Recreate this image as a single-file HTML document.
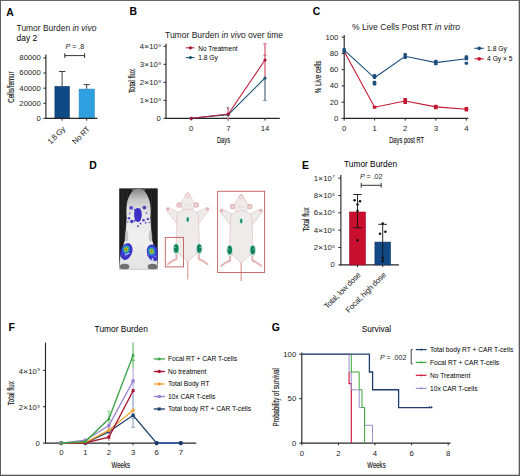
<!DOCTYPE html>
<html><head><meta charset="utf-8"><style>
html,body{margin:0;padding:0;background:#fff;}
svg{display:block;font-family:"Liberation Sans", sans-serif;}
</style></head><body>
<svg width="520" height="476" viewBox="0 0 520 476">
<text x="6.2" y="15.6" font-size="10.4" font-weight="bold" fill="#000">A</text>
<text x="16.6" y="30.5" font-size="8.43" fill="#222">Tumor Burden <tspan font-style="italic">in vivo</tspan></text>
<text x="16.6" y="41.3" font-size="8.43">day 2</text>
<text x="65.6" y="49.3" font-size="7.0" fill="#222"><tspan font-style="italic">P</tspan> = .8</text>
<line x1="64.8" y1="55.6" x2="84.6" y2="55.6" stroke="#333" stroke-width="1" />
<line x1="64.8" y1="53.2" x2="64.8" y2="58.0" stroke="#333" stroke-width="1" />
<line x1="84.6" y1="53.2" x2="84.6" y2="58.0" stroke="#333" stroke-width="1" />
<line x1="43.4" y1="118.4" x2="46" y2="118.4" stroke="#262626" stroke-width="1" />
<text x="0" y="0" font-size="6.9" text-anchor="end" fill="#222" transform="translate(40.8,120.85) scale(1.12,1)">0</text>
<line x1="43.4" y1="103.28" x2="46" y2="103.28" stroke="#262626" stroke-width="1" />
<text x="0" y="0" font-size="6.9" text-anchor="end" fill="#222" transform="translate(40.8,105.73) scale(1.12,1)">20000</text>
<line x1="43.4" y1="88.16000000000001" x2="46" y2="88.16000000000001" stroke="#262626" stroke-width="1" />
<text x="0" y="0" font-size="6.9" text-anchor="end" fill="#222" transform="translate(40.8,90.61) scale(1.12,1)">40000</text>
<line x1="43.4" y1="73.04" x2="46" y2="73.04" stroke="#262626" stroke-width="1" />
<text x="0" y="0" font-size="6.9" text-anchor="end" fill="#222" transform="translate(40.8,75.49) scale(1.12,1)">60000</text>
<line x1="43.4" y1="57.92000000000001" x2="46" y2="57.92000000000001" stroke="#262626" stroke-width="1" />
<text x="0" y="0" font-size="6.9" text-anchor="end" fill="#222" transform="translate(40.8,60.37) scale(1.12,1)">80000</text>
<line x1="45.9" y1="54.6" x2="45.9" y2="118.9" stroke="#262626" stroke-width="1.15" />
<rect x="54.9" y="86.5" width="14.4" height="31.900000000000006" fill="#0f4a85" stroke="#093560" stroke-width="0.6"/>
<rect x="79.1" y="89.1" width="15.2" height="29.30000000000001" fill="#2fa0df" stroke="#2288c8" stroke-width="0.6"/>
<line x1="62.1" y1="86.2" x2="62.1" y2="71.5" stroke="#3a4048" stroke-width="1" />
<line x1="58.9" y1="71.5" x2="65.5" y2="71.5" stroke="#3a4048" stroke-width="1" />
<line x1="86.7" y1="88.8" x2="86.7" y2="84.6" stroke="#3a4048" stroke-width="1" />
<line x1="83.6" y1="84.6" x2="89.8" y2="84.6" stroke="#3a4048" stroke-width="1" />
<line x1="45.4" y1="118.4" x2="97.5" y2="118.4" stroke="#262626" stroke-width="1.15" />
<line x1="62.1" y1="118.4" x2="62.1" y2="120.60000000000001" stroke="#262626" stroke-width="1" />
<line x1="86.7" y1="118.4" x2="86.7" y2="120.60000000000001" stroke="#262626" stroke-width="1" />
<text x="65.6" y="129.8" font-size="7.9" letter-spacing="-0.35" text-anchor="end" fill="#222" transform="rotate(-45 65.6 129.8)">1.8 Gy</text>
<text x="90.3" y="129.8" font-size="7.9" letter-spacing="-0.3" text-anchor="end" fill="#222" transform="rotate(-45 90.3 129.8)">No RT</text>
<text x="0" y="0" font-size="9.0" font-weight="normal" text-anchor="middle" textLength="31.5" lengthAdjust="spacingAndGlyphs" transform="translate(14.14,87.1) rotate(-90)" fill="#222" stroke="#222" stroke-width="0.16">Cells/femur</text>
<text x="129.4" y="15.4" font-size="10.4" font-weight="bold" fill="#000">B</text>
<text x="165.0" y="38.1" font-size="8.53" fill="#222">Tumor Burden <tspan font-style="italic">in vivo</tspan> over time</text>
<line x1="163.5" y1="118.3" x2="166" y2="118.3" stroke="#262626" stroke-width="1" />
<text x="0" y="0" font-size="6.9" text-anchor="end" fill="#222" transform="translate(160.8,120.75) scale(1.12,1)">0</text>
<line x1="163.5" y1="100.3" x2="166" y2="100.3" stroke="#262626" stroke-width="1" />
<text x="0" y="0" font-size="6.9" text-anchor="end" fill="#222" transform="translate(160.7,102.75) scale(1.12,1)">1<tspan font-size="7.93" dy="0.45">×</tspan><tspan dy="-0.45">10</tspan><tspan font-size="4.14" dx="0.35" dy="-2.07">9</tspan></text>
<line x1="163.5" y1="82.3" x2="166" y2="82.3" stroke="#262626" stroke-width="1" />
<text x="0" y="0" font-size="6.9" text-anchor="end" fill="#222" transform="translate(160.7,84.75) scale(1.12,1)">2<tspan font-size="7.93" dy="0.45">×</tspan><tspan dy="-0.45">10</tspan><tspan font-size="4.14" dx="0.35" dy="-2.07">9</tspan></text>
<line x1="163.5" y1="64.3" x2="166" y2="64.3" stroke="#262626" stroke-width="1" />
<text x="0" y="0" font-size="6.9" text-anchor="end" fill="#222" transform="translate(160.7,66.75) scale(1.12,1)">3<tspan font-size="7.93" dy="0.45">×</tspan><tspan dy="-0.45">10</tspan><tspan font-size="4.14" dx="0.35" dy="-2.07">9</tspan></text>
<line x1="163.5" y1="46.3" x2="166" y2="46.3" stroke="#262626" stroke-width="1" />
<text x="0" y="0" font-size="6.9" text-anchor="end" fill="#222" transform="translate(160.7,48.75) scale(1.12,1)">4<tspan font-size="7.93" dy="0.45">×</tspan><tspan dy="-0.45">10</tspan><tspan font-size="4.14" dx="0.35" dy="-2.07">9</tspan></text>
<line x1="166.0" y1="43.8" x2="166.0" y2="118.8" stroke="#262626" stroke-width="1.15" />
<line x1="165.5" y1="118.3" x2="279.8" y2="118.3" stroke="#262626" stroke-width="1.15" />
<line x1="191.2" y1="118.3" x2="191.2" y2="120.5" stroke="#262626" stroke-width="1" />
<text x="0" y="0" font-size="6.9" text-anchor="middle" fill="#222" transform="translate(191.2,130.95) scale(1.12,1)">0</text>
<line x1="228.3" y1="118.3" x2="228.3" y2="120.5" stroke="#262626" stroke-width="1" />
<text x="0" y="0" font-size="6.9" text-anchor="middle" fill="#222" transform="translate(228.3,130.95) scale(1.12,1)">7</text>
<line x1="265.0" y1="118.3" x2="265.0" y2="120.5" stroke="#262626" stroke-width="1" />
<text x="0" y="0" font-size="6.9" text-anchor="middle" fill="#222" transform="translate(265.0,130.95) scale(1.12,1)">14</text>
<text x="223.5" y="143.04" font-size="9.0" font-weight="normal" text-anchor="middle" textLength="13.0" lengthAdjust="spacingAndGlyphs" fill="#222" stroke="#222" stroke-width="0.16">Days</text>
<text x="0" y="0" font-size="9.0" font-weight="normal" text-anchor="middle" textLength="24.0" lengthAdjust="spacingAndGlyphs" transform="translate(135.24,81.0) rotate(-90)" fill="#222" stroke="#222" stroke-width="0.16">Total flux</text>
<line x1="265" y1="43.7" x2="265" y2="78" stroke="#e07c93" stroke-width="1.6" />
<line x1="263.2" y1="43.7" x2="266.8" y2="43.7" stroke="#e07c93" stroke-width="1" />
<line x1="263.4" y1="55.2" x2="266.6" y2="55.2" stroke="#c8506a" stroke-width="1" />
<line x1="265" y1="78" x2="265" y2="100.6" stroke="#7d8fa0" stroke-width="1.6" />
<line x1="263.2" y1="100.6" x2="266.8" y2="100.6" stroke="#7d8fa0" stroke-width="1" />
<line x1="228.1" y1="120.4" x2="228.1" y2="108.4" stroke="#d88a9c" stroke-width="1.4" />
<path d="M226.5,107.2 L229.7,107.2 L228.1,110.2 Z" fill="#a87080"/>
<polyline points="191.20,118.30 228.30,114.60 265.00,78.00" fill="none" stroke="#1e5676" stroke-width="1.1" />
<polyline points="191.20,118.30 228.30,114.00 265.00,60.00" fill="none" stroke="#c3203f" stroke-width="1.1" />
<circle cx="191.2" cy="118.3" r="1.6" fill="#1e5676" />
<circle cx="228.3" cy="114.6" r="1.6" fill="#1e5676" />
<circle cx="265" cy="78.0" r="1.6" fill="#1e5676" />
<circle cx="191.2" cy="118.3" r="1.6" fill="#a3142f" />
<circle cx="228.3" cy="114.0" r="1.6" fill="#a3142f" />
<circle cx="265" cy="60.0" r="1.6" fill="#a3142f" />
<line x1="185.8" y1="47.8" x2="194.4" y2="47.8" stroke="#c3203f" stroke-width="1.1" />
<circle cx="190.4" cy="47.8" r="1.6" fill="#a3142f" />
<text x="198.2" y="50.7" font-size="6.5">No Treatment</text>
<line x1="185.8" y1="57.6" x2="194.4" y2="57.6" stroke="#1e5676" stroke-width="1.1" />
<circle cx="190.4" cy="57.6" r="1.6" fill="#1e5676" />
<text x="198.2" y="60.0" font-size="6.65">1.8 Gy</text>
<text x="312.8" y="15.4" font-size="10.4" font-weight="bold" fill="#000">C</text>
<text x="352" y="30.0" font-size="8.6" fill="#222">% Live Cells Post RT <tspan font-style="italic">in vitro</tspan></text>
<line x1="341.6" y1="118.4" x2="344.2" y2="118.4" stroke="#262626" stroke-width="1" />
<text x="0" y="0" font-size="6.9" text-anchor="end" fill="#222" transform="translate(338.4,120.85) scale(1.12,1)">0</text>
<line x1="341.6" y1="102.15" x2="344.2" y2="102.15" stroke="#262626" stroke-width="1" />
<text x="0" y="0" font-size="6.9" text-anchor="end" fill="#222" transform="translate(338.4,104.60) scale(1.12,1)">20</text>
<line x1="341.6" y1="85.9" x2="344.2" y2="85.9" stroke="#262626" stroke-width="1" />
<text x="0" y="0" font-size="6.9" text-anchor="end" fill="#222" transform="translate(338.4,88.35) scale(1.12,1)">40</text>
<line x1="341.6" y1="69.65" x2="344.2" y2="69.65" stroke="#262626" stroke-width="1" />
<text x="0" y="0" font-size="6.9" text-anchor="end" fill="#222" transform="translate(338.4,72.10) scale(1.12,1)">60</text>
<line x1="341.6" y1="53.400000000000006" x2="344.2" y2="53.400000000000006" stroke="#262626" stroke-width="1" />
<text x="0" y="0" font-size="6.9" text-anchor="end" fill="#222" transform="translate(338.4,55.85) scale(1.12,1)">80</text>
<line x1="341.6" y1="37.150000000000006" x2="344.2" y2="37.150000000000006" stroke="#262626" stroke-width="1" />
<text x="0" y="0" font-size="6.9" text-anchor="end" fill="#222" transform="translate(338.4,39.60) scale(1.12,1)">100</text>
<line x1="344.2" y1="35.0" x2="344.2" y2="118.9" stroke="#262626" stroke-width="1.15" />
<line x1="343.7" y1="118.4" x2="468.3" y2="118.4" stroke="#262626" stroke-width="1.15" />
<line x1="344.2" y1="118.4" x2="344.2" y2="120.60000000000001" stroke="#262626" stroke-width="1" />
<text x="0" y="0" font-size="6.9" text-anchor="middle" fill="#222" transform="translate(344.2,130.95) scale(1.12,1)">0</text>
<line x1="374.6" y1="118.4" x2="374.6" y2="120.60000000000001" stroke="#262626" stroke-width="1" />
<text x="0" y="0" font-size="6.9" text-anchor="middle" fill="#222" transform="translate(374.6,130.95) scale(1.12,1)">1</text>
<line x1="405.2" y1="118.4" x2="405.2" y2="120.60000000000001" stroke="#262626" stroke-width="1" />
<text x="0" y="0" font-size="6.9" text-anchor="middle" fill="#222" transform="translate(405.2,130.95) scale(1.12,1)">2</text>
<line x1="435.8" y1="118.4" x2="435.8" y2="120.60000000000001" stroke="#262626" stroke-width="1" />
<text x="0" y="0" font-size="6.9" text-anchor="middle" fill="#222" transform="translate(435.8,130.95) scale(1.12,1)">3</text>
<line x1="466.4" y1="118.4" x2="466.4" y2="120.60000000000001" stroke="#262626" stroke-width="1" />
<text x="0" y="0" font-size="6.9" text-anchor="middle" fill="#222" transform="translate(466.4,130.95) scale(1.12,1)">4</text>
<text x="406.6" y="143.44" font-size="9.0" font-weight="normal" text-anchor="middle" textLength="34.8" lengthAdjust="spacingAndGlyphs" fill="#222" stroke="#222" stroke-width="0.16">Days post RT</text>
<text x="0" y="0" font-size="9.0" font-weight="normal" text-anchor="middle" textLength="32.4" lengthAdjust="spacingAndGlyphs" transform="translate(320.84,77.0) rotate(-90)" fill="#222" stroke="#222" stroke-width="0.16">% Live cells</text>
<polyline points="344.20,51.40 374.60,107.20 405.20,101.00 435.80,106.90 466.40,109.20" fill="none" stroke="#c5162f" stroke-width="1.1" />
<polyline points="344.20,50.20 374.50,77.80 405.20,56.30 435.80,62.60 466.40,58.80" fill="none" stroke="#1d4f7c" stroke-width="1.1" />
<rect x="342.4" y="47.95" width="3.6" height="3.1" fill="#1d4f7c" rx="1.2"/>
<rect x="342.4" y="49.95" width="3.6" height="3.1" fill="#1d4f7c" rx="1.2"/>
<rect x="372.7" y="74.05" width="3.6" height="3.1" fill="#1d4f7c" rx="1.2"/>
<rect x="372.7" y="75.85000000000001" width="3.6" height="3.1" fill="#1d4f7c" rx="1.2"/>
<rect x="372.7" y="80.75" width="3.6" height="3.1" fill="#1d4f7c" rx="1.2"/>
<rect x="372.7" y="82.35000000000001" width="3.6" height="3.1" fill="#1d4f7c" rx="1.2"/>
<rect x="403.4" y="53.050000000000004" width="3.6" height="3.1" fill="#1d4f7c" rx="1.2"/>
<rect x="403.4" y="55.85" width="3.6" height="3.1" fill="#1d4f7c" rx="1.2"/>
<rect x="434.0" y="59.650000000000006" width="3.6" height="3.1" fill="#1d4f7c" rx="1.2"/>
<rect x="434.0" y="62.25" width="3.6" height="3.1" fill="#1d4f7c" rx="1.2"/>
<rect x="464.59999999999997" y="55.35" width="3.6" height="3.1" fill="#1d4f7c" rx="1.2"/>
<rect x="464.59999999999997" y="57.25" width="3.6" height="3.1" fill="#1d4f7c" rx="1.2"/>
<rect x="464.59999999999997" y="61.650000000000006" width="3.6" height="3.1" fill="#1d4f7c" rx="1.2"/>
<rect x="372.8" y="105.65" width="3.6" height="3.1" fill="#c5162f" rx="0.5"/>
<rect x="403.4" y="98.05" width="3.6" height="3.1" fill="#c5162f" rx="0.5"/>
<rect x="403.4" y="100.85000000000001" width="3.6" height="3.1" fill="#c5162f" rx="0.5"/>
<rect x="434.0" y="104.65" width="3.6" height="3.1" fill="#c5162f" rx="0.5"/>
<rect x="434.0" y="106.05" width="3.6" height="3.1" fill="#c5162f" rx="0.5"/>
<rect x="464.59999999999997" y="106.95" width="3.6" height="3.1" fill="#c5162f" rx="0.5"/>
<rect x="464.59999999999997" y="108.45" width="3.6" height="3.1" fill="#c5162f" rx="0.5"/>
<line x1="474.4" y1="48.3" x2="483.7" y2="48.3" stroke="#1d4f7c" stroke-width="1.1" />
<circle cx="479.2" cy="48.3" r="1.9" fill="#1d4f7c" />
<text x="487.1" y="50.8" font-size="6.7">1.8 Gy</text>
<line x1="474.4" y1="58.8" x2="483.7" y2="58.8" stroke="#c5162f" stroke-width="1.1" />
<circle cx="479.2" cy="58.8" r="1.9" fill="#c5162f" />
<text x="487.1" y="61.3" font-size="6.7">4 Gy × 5</text>
<text x="302.0" y="168.8" font-size="10.4" font-weight="bold" fill="#000">E</text>
<text x="344.0" y="167.2" font-size="8.35">Tumor Burden</text>
<line x1="338.3" y1="264.9" x2="340.9" y2="264.9" stroke="#262626" stroke-width="1" />
<text x="0" y="0" font-size="6.9" text-anchor="end" fill="#222" transform="translate(334.7,267.35) scale(1.12,1)">0</text>
<line x1="338.3" y1="247.53999999999996" x2="340.9" y2="247.53999999999996" stroke="#262626" stroke-width="1" />
<text x="0" y="0" font-size="6.9" text-anchor="end" fill="#222" transform="translate(334.7,249.99) scale(1.12,1)">2<tspan font-size="7.93" dy="0.45">×</tspan><tspan dy="-0.45">10</tspan><tspan font-size="4.14" dx="0.35" dy="-2.07">6</tspan></text>
<line x1="338.3" y1="230.17999999999998" x2="340.9" y2="230.17999999999998" stroke="#262626" stroke-width="1" />
<text x="0" y="0" font-size="6.9" text-anchor="end" fill="#222" transform="translate(334.7,232.63) scale(1.12,1)">4<tspan font-size="7.93" dy="0.45">×</tspan><tspan dy="-0.45">10</tspan><tspan font-size="4.14" dx="0.35" dy="-2.07">6</tspan></text>
<line x1="338.3" y1="212.82" x2="340.9" y2="212.82" stroke="#262626" stroke-width="1" />
<text x="0" y="0" font-size="6.9" text-anchor="end" fill="#222" transform="translate(334.7,215.27) scale(1.12,1)">6<tspan font-size="7.93" dy="0.45">×</tspan><tspan dy="-0.45">10</tspan><tspan font-size="4.14" dx="0.35" dy="-2.07">6</tspan></text>
<line x1="338.3" y1="195.45999999999998" x2="340.9" y2="195.45999999999998" stroke="#262626" stroke-width="1" />
<text x="0" y="0" font-size="6.9" text-anchor="end" fill="#222" transform="translate(334.7,197.91) scale(1.12,1)">8<tspan font-size="7.93" dy="0.45">×</tspan><tspan dy="-0.45">10</tspan><tspan font-size="4.14" dx="0.35" dy="-2.07">6</tspan></text>
<line x1="338.3" y1="178.09999999999997" x2="340.9" y2="178.09999999999997" stroke="#262626" stroke-width="1" />
<text x="0" y="0" font-size="6.9" text-anchor="end" fill="#222" transform="translate(334.7,180.55) scale(1.12,1)">1<tspan font-size="7.93" dy="0.45">×</tspan><tspan dy="-0.45">10</tspan><tspan font-size="4.14" dx="0.35" dy="-2.07">7</tspan></text>
<line x1="340.9" y1="175.0" x2="340.9" y2="265.4" stroke="#262626" stroke-width="1.15" />
<line x1="340.4" y1="264.9" x2="398.9" y2="264.9" stroke="#262626" stroke-width="1.15" />
<rect x="349.5" y="212.0" width="16.0" height="52.89999999999998" fill="#c8102e" stroke="#a00c26" stroke-width="0.6"/>
<rect x="374.9" y="242.1" width="15.6" height="22.799999999999983" fill="#114a87" stroke="#0a3262" stroke-width="0.6"/>
<line x1="357.5" y1="194.5" x2="357.5" y2="227.7" stroke="#111" stroke-width="0.9" />
<line x1="353.3" y1="194.5" x2="361.6" y2="194.5" stroke="#111" stroke-width="0.9" />
<line x1="353.3" y1="227.7" x2="361.6" y2="227.7" stroke="#111" stroke-width="0.9" />
<line x1="382.7" y1="224.3" x2="382.7" y2="261.5" stroke="#111" stroke-width="0.9" />
<line x1="378.3" y1="224.3" x2="387.0" y2="224.3" stroke="#111" stroke-width="0.9" />
<circle cx="354.6" cy="200.3" r="1.25" fill="#111" />
<circle cx="360.0" cy="201.2" r="1.25" fill="#111" />
<circle cx="357.5" cy="204.6" r="1.25" fill="#111" />
<circle cx="357.5" cy="210.8" r="1.25" fill="#111" />
<circle cx="357.5" cy="240.3" r="1.25" fill="#111" />
<circle cx="382.7" cy="223.6" r="1.25" fill="#111" />
<circle cx="380.0" cy="233.8" r="1.25" fill="#111" />
<circle cx="385.4" cy="231.8" r="1.25" fill="#111" />
<circle cx="382.7" cy="257.7" r="1.25" fill="#111" />
<circle cx="382.7" cy="261.2" r="1.25" fill="#111" />
<line x1="357.5" y1="264.9" x2="357.5" y2="267.09999999999997" stroke="#262626" stroke-width="1" />
<line x1="382.7" y1="264.9" x2="382.7" y2="267.09999999999997" stroke="#262626" stroke-width="1" />
<text x="360" y="178.6" font-size="7.0" fill="#222"><tspan font-style="italic">P</tspan> = .02</text>
<line x1="361.2" y1="185.3" x2="381.2" y2="185.3" stroke="#333" stroke-width="1" />
<line x1="361.2" y1="182.9" x2="361.2" y2="187.70000000000002" stroke="#333" stroke-width="1" />
<line x1="381.2" y1="182.9" x2="381.2" y2="187.70000000000002" stroke="#333" stroke-width="1" />
<text x="361.0" y="275.6" font-size="7.9" letter-spacing="-0.3" text-anchor="end" fill="#222" transform="rotate(-45 361.0 275.6)">Total, low dose</text>
<text x="386.3" y="275.6" font-size="7.9" letter-spacing="-0.3" text-anchor="end" fill="#222" transform="rotate(-45 386.3 275.6)">Focal, high dose</text>
<text x="0" y="0" font-size="9.0" font-weight="normal" text-anchor="middle" textLength="24.1" lengthAdjust="spacingAndGlyphs" transform="translate(309.04,219.4) rotate(-90)" fill="#222" stroke="#222" stroke-width="0.16">Total flux</text>
<text x="8.6" y="331.2" font-size="10.4" font-weight="bold" fill="#000">F</text>
<text x="94.6" y="331.7" font-size="8.4">Tumor Burden</text>
<line x1="42.9" y1="443.1" x2="45.5" y2="443.1" stroke="#262626" stroke-width="1" />
<text x="0" y="0" font-size="6.9" text-anchor="end" fill="#222" transform="translate(39.8,446.35) scale(1.12,1)">0</text>
<line x1="42.9" y1="406.70000000000005" x2="45.5" y2="406.70000000000005" stroke="#262626" stroke-width="1" />
<text x="0" y="0" font-size="6.9" text-anchor="end" fill="#222" transform="translate(39.8,409.95) scale(1.12,1)">2<tspan font-size="7.93" dy="0.45">×</tspan><tspan dy="-0.45">10</tspan><tspan font-size="4.14" dx="0.35" dy="-2.07">9</tspan></text>
<line x1="42.9" y1="370.3" x2="45.5" y2="370.3" stroke="#262626" stroke-width="1" />
<text x="0" y="0" font-size="6.9" text-anchor="end" fill="#222" transform="translate(39.8,373.55) scale(1.12,1)">4<tspan font-size="7.93" dy="0.45">×</tspan><tspan dy="-0.45">10</tspan><tspan font-size="4.14" dx="0.35" dy="-2.07">9</tspan></text>
<line x1="45.5" y1="342.7" x2="45.5" y2="443.6" stroke="#262626" stroke-width="1.15" />
<line x1="45.0" y1="443.1" x2="196.2" y2="443.1" stroke="#262626" stroke-width="1.15" />
<line x1="61.3" y1="443.1" x2="61.3" y2="445.3" stroke="#262626" stroke-width="1" />
<text x="0" y="0" font-size="6.9" text-anchor="middle" fill="#222" transform="translate(61.3,455.15) scale(1.12,1)">0</text>
<line x1="85.4" y1="443.1" x2="85.4" y2="445.3" stroke="#262626" stroke-width="1" />
<text x="0" y="0" font-size="6.9" text-anchor="middle" fill="#222" transform="translate(85.4,455.15) scale(1.12,1)">1</text>
<line x1="108.9" y1="443.1" x2="108.9" y2="445.3" stroke="#262626" stroke-width="1" />
<text x="0" y="0" font-size="6.9" text-anchor="middle" fill="#222" transform="translate(108.9,455.15) scale(1.12,1)">2</text>
<line x1="133.1" y1="443.1" x2="133.1" y2="445.3" stroke="#262626" stroke-width="1" />
<text x="0" y="0" font-size="6.9" text-anchor="middle" fill="#222" transform="translate(133.1,455.15) scale(1.12,1)">3</text>
<line x1="156.6" y1="443.1" x2="156.6" y2="445.3" stroke="#262626" stroke-width="1" />
<text x="0" y="0" font-size="6.9" text-anchor="middle" fill="#222" transform="translate(156.6,455.15) scale(1.12,1)">6</text>
<line x1="180.8" y1="443.1" x2="180.8" y2="445.3" stroke="#262626" stroke-width="1" />
<text x="0" y="0" font-size="6.9" text-anchor="middle" fill="#222" transform="translate(180.8,455.15) scale(1.12,1)">7</text>
<text x="120.8" y="467.84" font-size="9.0" font-weight="normal" text-anchor="middle" textLength="18.5" lengthAdjust="spacingAndGlyphs" fill="#222" stroke="#222" stroke-width="0.16">Weeks</text>
<text x="0" y="0" font-size="9.0" font-weight="normal" text-anchor="middle" textLength="24.0" lengthAdjust="spacingAndGlyphs" transform="translate(13.84,393.2) rotate(-90)" fill="#222" stroke="#222" stroke-width="0.16">Total flux</text>
<line x1="133.1" y1="342.6" x2="133.1" y2="368" stroke="#9fd39f" stroke-width="1.8" />
<line x1="131.3" y1="360.3" x2="134.9" y2="360.3" stroke="#3da548" stroke-width="0.8" />
<line x1="108.9" y1="411" x2="108.9" y2="426" stroke="#a9d8a9" stroke-width="1.6" />
<line x1="107.3" y1="411" x2="110.5" y2="411" stroke="#8ec98e" stroke-width="0.8" />
<line x1="133.1" y1="368" x2="133.1" y2="405" stroke="#c9bfe6" stroke-width="1.6" />
<line x1="133.1" y1="395" x2="133.1" y2="427.3" stroke="#b0c0d8" stroke-width="1.6" />
<line x1="131.3" y1="427.3" x2="134.9" y2="427.3" stroke="#6f86a6" stroke-width="0.8" />
<line x1="131.3" y1="418.3" x2="134.9" y2="418.3" stroke="#8a7db8" stroke-width="0.8" />
<line x1="108.9" y1="426" x2="108.9" y2="441" stroke="#d6a0ae" stroke-width="1.6" />
<polyline points="61.30,443.10 85.40,443.10 108.90,431.70 133.10,415.30 156.60,443.10 180.80,443.10" fill="none" stroke="#1d3c6c" stroke-width="1.35" />
<rect x="59.68" y="441.49" width="3.23" height="3.23" fill="#1d3c6c"/>
<rect x="83.79" y="441.49" width="3.23" height="3.23" fill="#1d3c6c"/>
<rect x="107.29" y="430.08" width="3.23" height="3.23" fill="#1d3c6c"/>
<rect x="131.48" y="413.69" width="3.23" height="3.23" fill="#1d3c6c"/>
<rect x="154.98" y="441.49" width="3.23" height="3.23" fill="#1d3c6c"/>
<rect x="179.19" y="441.49" width="3.23" height="3.23" fill="#1d3c6c"/>
<polyline points="61.30,443.10 85.40,442.50 108.90,430.20 133.10,410.30" fill="none" stroke="#f0a435" stroke-width="1.35" />
<path d="M61.3,440.92 L63.48,443.1 L61.3,445.29 L59.11,443.1 Z" fill="#f0a435"/>
<path d="M85.4,440.31 L87.59,442.5 L85.4,444.69 L83.22,442.5 Z" fill="#f0a435"/>
<path d="M108.9,428.01 L111.09,430.2 L108.9,432.38 L106.72,430.2 Z" fill="#f0a435"/>
<path d="M133.1,408.12 L135.28,410.3 L133.1,412.49 L130.91,410.3 Z" fill="#f0a435"/>
<polyline points="61.30,443.10 85.40,442.80 108.90,437.20 133.10,390.70" fill="none" stroke="#a8112f" stroke-width="1.35" />
<path d="M61.3,445.19 L63.20,441.68 L59.40,441.68 Z" fill="#a8112f"/><path d="M61.3,441.01 L63.20,444.53 L59.40,444.53 Z" fill="#a8112f"/>
<path d="M85.4,444.89 L87.30,441.38 L83.50,441.38 Z" fill="#a8112f"/><path d="M85.4,440.71 L87.30,444.23 L83.50,444.23 Z" fill="#a8112f"/>
<path d="M108.9,439.29 L110.80,435.77 L107.00,435.77 Z" fill="#a8112f"/><path d="M108.9,435.11 L110.80,438.62 L107.00,438.62 Z" fill="#a8112f"/>
<path d="M133.1,392.79 L135.00,389.27 L131.20,389.27 Z" fill="#a8112f"/><path d="M133.1,388.61 L135.00,392.12 L131.20,392.12 Z" fill="#a8112f"/>
<polyline points="61.30,443.10 85.40,440.20 108.90,425.60 133.10,381.00" fill="none" stroke="#9b82cf" stroke-width="1.35" />
<rect x="59.68" y="441.49" width="3.23" height="3.23" fill="#9b82cf"/>
<rect x="83.79" y="438.58" width="3.23" height="3.23" fill="#9b82cf"/>
<rect x="107.29" y="423.99" width="3.23" height="3.23" fill="#9b82cf"/>
<rect x="131.48" y="379.38" width="3.23" height="3.23" fill="#9b82cf"/>
<polyline points="61.30,443.10 85.40,441.50 108.90,418.80 133.10,355.20" fill="none" stroke="#3da548" stroke-width="1.35" />
<path d="M61.3,441.01 L63.20,444.53 L59.40,444.53 Z" fill="#3da548"/>
<path d="M85.4,439.41 L87.30,442.93 L83.50,442.93 Z" fill="#3da548"/>
<path d="M108.9,416.71 L110.80,420.23 L107.00,420.23 Z" fill="#3da548"/>
<path d="M133.1,353.11 L135.00,356.62 L131.20,356.62 Z" fill="#3da548"/>
<line x1="156.6" y1="443.1" x2="180.8" y2="443.1" stroke="#2a64a8" stroke-width="1.4" />
<circle cx="156.6" cy="443.1" r="2.1" fill="#1d3c6c" />
<circle cx="180.8" cy="443.1" r="2.1" fill="#1d3c6c" />
<line x1="153.8" y1="358.9" x2="164.9" y2="358.9" stroke="#3da548" stroke-width="1.35" />
<path d="M159.2,356.92 L161.00,360.25 L157.40,360.25 Z" fill="#3da548"/>
<text x="167.9" y="361.29999999999995" font-size="6.65">Focal RT + CAR T-cells</text>
<line x1="153.8" y1="371.5" x2="164.9" y2="371.5" stroke="#a8112f" stroke-width="1.35" />
<path d="M159.2,373.48 L161.00,370.15 L157.40,370.15 Z" fill="#a8112f"/><path d="M159.2,369.52 L161.00,372.85 L157.40,372.85 Z" fill="#a8112f"/>
<text x="167.9" y="373.9" font-size="6.65">No treatment</text>
<line x1="153.8" y1="384.0" x2="164.9" y2="384.0" stroke="#f0a435" stroke-width="1.35" />
<path d="M159.2,381.93 L161.27,384.0 L159.2,386.07 L157.13,384.0 Z" fill="#f0a435"/>
<text x="167.9" y="386.4" font-size="6.65">Total Body RT</text>
<line x1="153.8" y1="396.5" x2="164.9" y2="396.5" stroke="#9b82cf" stroke-width="1.35" />
<rect x="157.67" y="394.97" width="3.06" height="3.06" fill="#9b82cf"/>
<text x="167.9" y="398.9" font-size="6.65">10x CAR T-cells</text>
<line x1="153.8" y1="409.0" x2="164.9" y2="409.0" stroke="#1d3c6c" stroke-width="1.35" />
<rect x="157.67" y="407.47" width="3.06" height="3.06" fill="#1d3c6c"/>
<text x="167.9" y="411.4" font-size="6.65">Total body RT + CAR T-cells</text>
<text x="271.8" y="331.2" font-size="10.4" font-weight="bold" fill="#000">G</text>
<text x="361.7" y="331.8" font-size="8.3">Survival</text>
<line x1="299.2" y1="443.1" x2="301.8" y2="443.1" stroke="#262626" stroke-width="1" />
<text x="0" y="0" font-size="6.9" text-anchor="end" fill="#222" transform="translate(296.2,445.55) scale(1.12,1)">0</text>
<line x1="299.2" y1="398.65" x2="301.8" y2="398.65" stroke="#262626" stroke-width="1" />
<text x="0" y="0" font-size="6.9" text-anchor="end" fill="#222" transform="translate(296.2,401.10) scale(1.12,1)">50</text>
<line x1="299.2" y1="354.2" x2="301.8" y2="354.2" stroke="#262626" stroke-width="1" />
<text x="0" y="0" font-size="6.9" text-anchor="end" fill="#222" transform="translate(296.2,356.65) scale(1.12,1)">100</text>
<line x1="301.8" y1="352.5" x2="301.8" y2="443.6" stroke="#262626" stroke-width="1.15" />
<line x1="301.3" y1="443.1" x2="450.5" y2="443.1" stroke="#262626" stroke-width="1.3" />
<line x1="301.8" y1="443.1" x2="301.8" y2="445.3" stroke="#262626" stroke-width="1" />
<text x="0" y="0" font-size="6.9" text-anchor="middle" fill="#222" transform="translate(301.8,455.75) scale(1.12,1)">0</text>
<line x1="338.40000000000003" y1="443.1" x2="338.40000000000003" y2="445.3" stroke="#262626" stroke-width="1" />
<text x="0" y="0" font-size="6.9" text-anchor="middle" fill="#222" transform="translate(338.40000000000003,455.75) scale(1.12,1)">2</text>
<line x1="375.0" y1="443.1" x2="375.0" y2="445.3" stroke="#262626" stroke-width="1" />
<text x="0" y="0" font-size="6.9" text-anchor="middle" fill="#222" transform="translate(375.0,455.75) scale(1.12,1)">4</text>
<line x1="411.6" y1="443.1" x2="411.6" y2="445.3" stroke="#262626" stroke-width="1" />
<text x="0" y="0" font-size="6.9" text-anchor="middle" fill="#222" transform="translate(411.6,455.75) scale(1.12,1)">6</text>
<line x1="448.20000000000005" y1="443.1" x2="448.20000000000005" y2="445.3" stroke="#262626" stroke-width="1" />
<text x="0" y="0" font-size="6.9" text-anchor="middle" fill="#222" transform="translate(448.20000000000005,455.75) scale(1.12,1)">8</text>
<text x="376.5" y="467.64" font-size="9.0" font-weight="normal" text-anchor="middle" textLength="18.3" lengthAdjust="spacingAndGlyphs" fill="#222" stroke="#222" stroke-width="0.16">Weeks</text>
<text x="0" y="0" font-size="9.0" font-weight="normal" text-anchor="middle" textLength="58.3" lengthAdjust="spacingAndGlyphs" transform="translate(278.54,397.3) rotate(-90)" fill="#222" stroke="#222" stroke-width="0.16">Probability of survival</text>
<polyline points="349.10,371.98 349.10,383.63 351.30,383.63 351.30,443.10" fill="none" stroke="#d0163e" stroke-width="1.15" />
<polyline points="301.80,354.20 349.10,354.20 349.10,371.98 351.30,371.98 351.30,389.76 359.20,389.76 359.20,407.54 364.60,407.54 364.60,425.32 372.50,425.32 372.50,443.10" fill="none" stroke="#9a8fd0" stroke-width="1.0" />
<polyline points="351.30,354.20 351.30,371.98 359.20,371.98 359.20,389.76 362.00,389.76 362.00,407.54 364.60,407.54 364.60,443.10" fill="none" stroke="#3aa836" stroke-width="1.0" />
<polyline points="301.80,354.20 369.40,354.20 369.40,371.98 372.60,371.98 372.60,389.76 398.60,389.76 398.60,407.54 432.40,407.54" fill="none" stroke="#1f3e6d" stroke-width="1.3" />
<line x1="429.3" y1="406.04" x2="429.3" y2="407.54" stroke="#1f3e6d" stroke-width="0.8" />
<line x1="431.6" y1="406.04" x2="431.6" y2="407.54" stroke="#1f3e6d" stroke-width="0.8" />
<text x="380" y="359.8" font-size="7.0" fill="#222"><tspan font-style="italic">P</tspan> = .002</text>
<polyline points="412.80,349.60 411.20,349.60 411.20,363.90 412.80,363.90" fill="none" stroke="#333" stroke-width="0.9" />
<line x1="415.8" y1="349.6" x2="426.6" y2="349.6" stroke="#1f3e6d" stroke-width="1.2" />
<line x1="421.2" y1="348.40000000000003" x2="421.2" y2="350.8" stroke="#1f3e6d" stroke-width="0.8" />
<text x="430.0" y="352.0" font-size="6.65">Total body RT + CAR T-cells</text>
<line x1="415.8" y1="362.4" x2="426.6" y2="362.4" stroke="#3aa836" stroke-width="1.2" />
<line x1="421.2" y1="361.2" x2="421.2" y2="363.59999999999997" stroke="#3aa836" stroke-width="0.8" />
<text x="430.0" y="364.79999999999995" font-size="6.65">Focal RT + CAR T-cells</text>
<line x1="415.8" y1="375.3" x2="426.6" y2="375.3" stroke="#d0163e" stroke-width="1.2" />
<line x1="421.2" y1="374.1" x2="421.2" y2="376.5" stroke="#d0163e" stroke-width="0.8" />
<text x="430.0" y="377.7" font-size="6.65">No Treatment</text>
<line x1="415.8" y1="388.4" x2="426.6" y2="388.4" stroke="#9a8fd0" stroke-width="1.2" />
<line x1="421.2" y1="387.2" x2="421.2" y2="389.59999999999997" stroke="#9a8fd0" stroke-width="0.8" />
<text x="430.0" y="390.79999999999995" font-size="6.65">10x CAR T-cells</text>
<text x="89.2" y="168.8" font-size="10.4" font-weight="bold" fill="#000">D</text>
<defs><filter id="pb" x="-10%" y="-10%" width="120%" height="120%"><feGaussianBlur stdDeviation="0.5"/></filter><linearGradient id="mg" x1="0" y1="0" x2="0" y2="1"><stop offset="0" stop-color="#8a8a8a"/><stop offset="0.12" stop-color="#c4c4c4"/><stop offset="0.3" stop-color="#e6e6e6"/><stop offset="0.6" stop-color="#f0f0f0"/><stop offset="1" stop-color="#e2e2e2"/></linearGradient><clipPath id="pc"><rect x="119.2" y="188.4" width="38.5" height="80.8"/></clipPath></defs>
<rect x="119.2" y="188.4" width="38.5" height="80.8" fill="#1d1d1d"/>
<g clip-path="url(#pc)"><g filter="url(#pb)">
<rect x="122.5" y="188" width="1.2" height="40" fill="#292929"/>
<rect x="126.5" y="188" width="0.8" height="40" fill="#2b2b2b"/>
<rect x="151" y="188" width="1.0" height="40" fill="#2a2a2a"/>
<rect x="154.5" y="188" width="1.2" height="40" fill="#262626"/>
<ellipse cx="138.5" cy="189" rx="7" ry="4" fill="#5c5c5c"/>
<path d="M138.5,189.6 C142,189.6 144.5,191 145.8,193.5 C147.8,196.5 149.2,200 149.8,204 C150.4,208 150.3,213 150.0,218 C150.5,226 151.2,234 151.8,240 C153.5,246 155.5,252 156.5,258 L157.9,269.4 L119.0,269.4 L120.5,258 C121.5,252 123.5,246 125.2,240 C125.8,234 126.5,226 127.0,218 C126.7,213 126.6,208 127.2,204 C127.8,200 129.2,196.5 131.2,193.5 C132.5,191 135,189.6 138.5,189.6 Z" fill="url(#mg)" stroke="#a0a0a0" stroke-width="0.9"/>
<path d="M138.5,189.6 C142,189.6 144.5,191 145.8,193.5 C147.8,196.5 149.2,200 149.8,204 C150.4,208 150.3,213 150.0,218 C150.5,226 151.2,234 151.8,240 C153.5,246 155.5,252 156.5,258 L157.9,269.4 L119.0,269.4 L120.5,258 C121.5,252 123.5,246 125.2,240 C125.8,234 126.5,226 127.0,218 C126.7,213 126.6,208 127.2,204 C127.8,200 129.2,196.5 131.2,193.5 C132.5,191 135,189.6 138.5,189.6 Z" fill="url(#mg)"/>
<ellipse cx="126.5" cy="236" rx="1.8" ry="6" fill="#a8a8a8" opacity="0.6"/>
<ellipse cx="150.5" cy="236" rx="1.8" ry="6" fill="#a8a8a8" opacity="0.6"/>
<ellipse cx="124.5" cy="266.8" rx="4.8" ry="3.0" fill="#707070"/>
<ellipse cx="152.5" cy="266.8" rx="4.8" ry="3.0" fill="#707070"/>
<ellipse cx="138.5" cy="263" rx="4.5" ry="5" fill="#e6e6e6"/>
<path d="M138.0,208.0 C140.8,208.0 142.0,211.5 141.8,215 C141.6,219 140.3,222 138.0,222 C135.6,222 134.3,219 134.2,215 C134.0,211.5 135.3,208.0 138.0,208.0 Z" fill="#3a2ec6"/>
<circle cx="131.2" cy="207.8" r="1.9" fill="#5646c4"/>
<circle cx="144.4" cy="207.6" r="1.9" fill="#5242c0"/>
<circle cx="135.3" cy="210" r="1.3" fill="#4a3ccc"/>
<circle cx="129.0" cy="218.2" r="1.3" fill="#5a4ad0"/>
<circle cx="131.8" cy="221.5" r="1.7" fill="#4a3ac0"/>
<circle cx="147.8" cy="219.0" r="1.3" fill="#5848c8"/>
<circle cx="143.5" cy="220.2" r="1.3" fill="#4a3ac8"/>
<circle cx="138.0" cy="226.2" r="1.1" fill="#6a6ab0"/>
<circle cx="134.6" cy="220.8" r="1.0" fill="#4f3fd0"/>
<circle cx="145.6" cy="222.8" r="1.0" fill="#6a5ad0"/>
<circle cx="129.8" cy="213.5" r="0.9" fill="#8070c8"/>
<circle cx="146.5" cy="213.0" r="0.9" fill="#7a6ac8"/>
<circle cx="127.8" cy="221.8" r="0.8" fill="#6858c8"/>
<circle cx="149.2" cy="222.5" r="0.8" fill="#6a5ac8"/>
<circle cx="140.5" cy="223.5" r="0.9" fill="#5040c8"/>
<g transform="translate(126.2,249.4) rotate(18)">
<ellipse cx="0.8" cy="2.0" rx="5.8" ry="8.6" fill="#3733c8"/>
<circle cx="-0.4" cy="3.2" r="0.9" fill="#4a44d8"/>
<circle cx="3.6" cy="2.8" r="0.8" fill="#dcdcf0"/>
<circle cx="-1.3" cy="2.7" r="0.8" fill="#4a44d8"/>
<circle cx="-2.3" cy="5.4" r="1.0" fill="#4a44d8"/>
<circle cx="4.6" cy="7.0" r="0.8" fill="#4a44d8"/>
<circle cx="1.6" cy="5.2" r="1.1" fill="#4a44d8"/>
<circle cx="1.5" cy="3.1" r="0.8" fill="#dcdcf0"/>
<circle cx="-2.1" cy="4.5" r="1.0" fill="#4a44d8"/>
<circle cx="-2.2" cy="6.6" r="0.6" fill="#4a44d8"/>
<circle cx="1.4" cy="2.5" r="0.5" fill="#4a44d8"/>
<circle cx="1.0" cy="6.3" r="1.0" fill="#6a66e0"/>
<circle cx="1.7" cy="5.6" r="0.7" fill="#4a44d8"/>
<circle cx="2.6" cy="4.0" r="0.8" fill="#dcdcf0"/>
<circle cx="1.0" cy="4.7" r="0.8" fill="#dcdcf0"/>
<ellipse cx="0" cy="0" rx="3.7" ry="4.3" fill="#2a80d0"/>
<ellipse cx="0" cy="0" rx="2.6" ry="3.0" fill="#3fb07a"/>
<ellipse cx="0" cy="0" rx="1.7" ry="1.9" fill="#c0c828"/>
<ellipse cx="0" cy="0" rx="0.8" ry="0.9" fill="#8a6a10"/>
</g>
<g transform="translate(151.6,251.2) rotate(-18)">
<ellipse cx="0.8" cy="2.0" rx="5.8" ry="8.6" fill="#3733c8"/>
<circle cx="-4.8" cy="2.9" r="0.8" fill="#6a66e0"/>
<circle cx="1.8" cy="5.9" r="0.5" fill="#dcdcf0"/>
<circle cx="2.4" cy="6.5" r="1.0" fill="#6a66e0"/>
<circle cx="0.3" cy="4.8" r="0.8" fill="#6a66e0"/>
<circle cx="2.4" cy="2.7" r="0.7" fill="#dcdcf0"/>
<circle cx="-2.3" cy="2.5" r="0.9" fill="#dcdcf0"/>
<circle cx="-1.6" cy="7.4" r="0.8" fill="#dcdcf0"/>
<circle cx="-0.1" cy="7.3" r="0.5" fill="#6a66e0"/>
<circle cx="0.2" cy="6.9" r="0.8" fill="#4a44d8"/>
<circle cx="-3.1" cy="3.0" r="0.6" fill="#6a66e0"/>
<circle cx="-4.3" cy="6.0" r="0.6" fill="#6a66e0"/>
<circle cx="-1.4" cy="9.1" r="1.0" fill="#dcdcf0"/>
<circle cx="0.8" cy="5.3" r="0.7" fill="#6a66e0"/>
<circle cx="-4.7" cy="3.2" r="0.6" fill="#4a44d8"/>
<ellipse cx="0" cy="0" rx="3.7" ry="4.3" fill="#2a80d0"/>
<ellipse cx="0" cy="0" rx="2.6" ry="3.0" fill="#3fb07a"/>
<ellipse cx="0" cy="0" rx="1.7" ry="1.9" fill="#c0c828"/>
<ellipse cx="0" cy="0" rx="0.8" ry="0.9" fill="#8a6a10"/>
</g>
</g></g>
<g transform="translate(187.7,0)">
<line x1="0" y1="259" x2="0" y2="279.5" stroke="#e6b2b2" stroke-width="1.6"/>
<polyline points="11,253 11.2,259 15,260.8 19.9,264.2" fill="none" stroke="#e6b2b2" stroke-width="2.0" stroke-linejoin="round" stroke-linecap="round"/>
<polyline points="-11,253 -11.2,259 -15,260.8 -19.9,264.2" fill="none" stroke="#e6b2b2" stroke-width="2.0" stroke-linejoin="round" stroke-linecap="round"/>
<path d="M9.0,212.6 L18.9,207.7 L20.8,210.6 L10.4,224.5 Z" fill="#eeebea" stroke="#d9b5b5" stroke-width="0.55" stroke-linejoin="round"/>
<circle cx="19.9" cy="209.0" r="1.7" fill="#e6b2b2"/>
<path d="M-9.0,212.6 L-18.9,207.7 L-20.8,210.6 L-10.4,224.5 Z" fill="#eeebea" stroke="#d9b5b5" stroke-width="0.55" stroke-linejoin="round"/>
<circle cx="-19.9" cy="209.0" r="1.7" fill="#e6b2b2"/>
<circle cx="8.6" cy="205.0" r="2.7" fill="#e2b6b6"/>
<circle cx="8.6" cy="205.0" r="1.5" fill="#efd6d6"/>
<circle cx="-8.6" cy="205.0" r="2.7" fill="#e2b6b6"/>
<circle cx="-8.6" cy="205.0" r="1.5" fill="#efd6d6"/>
<ellipse cx="11.0" cy="249.0" rx="3.3" ry="5.8" fill="#eeebea" stroke="#d9b5b5" stroke-width="0.5"/>
<ellipse cx="-11.0" cy="249.0" rx="3.3" ry="5.8" fill="#eeebea" stroke="#d9b5b5" stroke-width="0.5"/>
<path d="M0,192.6 C1.6,193 2.9,195.5 3.6,198.3 C5.4,199.8 6.5,202.3 6.4,205 C6.3,207.4 5.4,209.2 4.6,210.4 C7.5,211.2 9.5,212.5 10.4,214.5 L10.8,222 C11.2,230 11.5,236 11.5,241 C11.5,246 10.4,251 8.0,254.5 L0,261.4 L-8.0,254.5 C-10.4,251 -11.5,246 -11.5,241 C-11.5,236 -11.2,230 -10.8,222 L-10.4,214.5 C-9.5,212.5 -7.5,211.2 -4.6,210.4 C-5.4,209.2 -6.3,207.4 -6.4,205 C-6.5,202.3 -5.4,199.8 -3.6,198.3 C-2.9,195.5 -1.6,193 0,192.6 Z" fill="#eeebea" stroke="#d9b5b5" stroke-width="0.55"/>
<ellipse cx="0" cy="195.3" rx="1.6" ry="2.0" fill="none" stroke="#e0aaaa" stroke-width="0.6"/>
<path d="M-4.5,210 Q0,207.6 4.5,210" fill="none" stroke="#d9b5b5" stroke-width="0.5"/>
<path d="M-3,206 Q0,203.5 3,206" fill="none" stroke="#d9b5b5" stroke-width="0.4"/>
<ellipse cx="0" cy="219.5" rx="1.8" ry="3.0" fill="#aee6d4"/>
<ellipse cx="0" cy="219.5" rx="1.0" ry="2.3" fill="#13805f"/>
<ellipse cx="11.4" cy="248.8" rx="3.1" ry="5.2" fill="#aee6d4"/>
<ellipse cx="11.5" cy="248.6" rx="2.3" ry="4.3" fill="#13805f"/>
<circle cx="12.6" cy="247.5" r="0.6" fill="#aee6d4"/>
<ellipse cx="-11.4" cy="248.8" rx="3.1" ry="5.2" fill="#aee6d4"/>
<ellipse cx="-11.5" cy="248.6" rx="2.3" ry="4.3" fill="#13805f"/>
<circle cx="-12.6" cy="247.5" r="0.6" fill="#aee6d4"/>
</g>
<g transform="translate(241.2,1.5)">
<line x1="0" y1="259" x2="0" y2="279.5" stroke="#e6b2b2" stroke-width="1.6"/>
<polyline points="11,253 11.2,259 15,260.8 19.9,264.2" fill="none" stroke="#e6b2b2" stroke-width="2.0" stroke-linejoin="round" stroke-linecap="round"/>
<polyline points="-11,253 -11.2,259 -15,260.8 -19.9,264.2" fill="none" stroke="#e6b2b2" stroke-width="2.0" stroke-linejoin="round" stroke-linecap="round"/>
<path d="M9.0,212.6 L18.9,207.7 L20.8,210.6 L10.4,224.5 Z" fill="#eeebea" stroke="#d9b5b5" stroke-width="0.55" stroke-linejoin="round"/>
<circle cx="19.9" cy="209.0" r="1.7" fill="#e6b2b2"/>
<path d="M-9.0,212.6 L-18.9,207.7 L-20.8,210.6 L-10.4,224.5 Z" fill="#eeebea" stroke="#d9b5b5" stroke-width="0.55" stroke-linejoin="round"/>
<circle cx="-19.9" cy="209.0" r="1.7" fill="#e6b2b2"/>
<circle cx="8.6" cy="205.0" r="2.7" fill="#e2b6b6"/>
<circle cx="8.6" cy="205.0" r="1.5" fill="#efd6d6"/>
<circle cx="-8.6" cy="205.0" r="2.7" fill="#e2b6b6"/>
<circle cx="-8.6" cy="205.0" r="1.5" fill="#efd6d6"/>
<ellipse cx="11.0" cy="249.0" rx="3.3" ry="5.8" fill="#eeebea" stroke="#d9b5b5" stroke-width="0.5"/>
<ellipse cx="-11.0" cy="249.0" rx="3.3" ry="5.8" fill="#eeebea" stroke="#d9b5b5" stroke-width="0.5"/>
<path d="M0,192.6 C1.6,193 2.9,195.5 3.6,198.3 C5.4,199.8 6.5,202.3 6.4,205 C6.3,207.4 5.4,209.2 4.6,210.4 C7.5,211.2 9.5,212.5 10.4,214.5 L10.8,222 C11.2,230 11.5,236 11.5,241 C11.5,246 10.4,251 8.0,254.5 L0,261.4 L-8.0,254.5 C-10.4,251 -11.5,246 -11.5,241 C-11.5,236 -11.2,230 -10.8,222 L-10.4,214.5 C-9.5,212.5 -7.5,211.2 -4.6,210.4 C-5.4,209.2 -6.3,207.4 -6.4,205 C-6.5,202.3 -5.4,199.8 -3.6,198.3 C-2.9,195.5 -1.6,193 0,192.6 Z" fill="#eeebea" stroke="#d9b5b5" stroke-width="0.55"/>
<ellipse cx="0" cy="195.3" rx="1.6" ry="2.0" fill="none" stroke="#e0aaaa" stroke-width="0.6"/>
<path d="M-4.5,210 Q0,207.6 4.5,210" fill="none" stroke="#d9b5b5" stroke-width="0.5"/>
<path d="M-3,206 Q0,203.5 3,206" fill="none" stroke="#d9b5b5" stroke-width="0.4"/>
<ellipse cx="0" cy="219.5" rx="1.8" ry="3.0" fill="#aee6d4"/>
<ellipse cx="0" cy="219.5" rx="1.0" ry="2.3" fill="#13805f"/>
<ellipse cx="11.4" cy="248.8" rx="3.1" ry="5.2" fill="#aee6d4"/>
<ellipse cx="11.5" cy="248.6" rx="2.3" ry="4.3" fill="#13805f"/>
<circle cx="12.6" cy="247.5" r="0.6" fill="#aee6d4"/>
<ellipse cx="-11.4" cy="248.8" rx="3.1" ry="5.2" fill="#aee6d4"/>
<ellipse cx="-11.5" cy="248.6" rx="2.3" ry="4.3" fill="#13805f"/>
<circle cx="-12.6" cy="247.5" r="0.6" fill="#aee6d4"/>
</g>
<rect x="165.3" y="237.4" width="18.2" height="29.5" fill="none" stroke="#c4605c" stroke-width="0.9"/>
<rect x="217.6" y="191.3" width="47.0" height="81.2" fill="none" stroke="#c4605c" stroke-width="0.9"/>
<rect x="0" y="0" width="520" height="1" fill="#666" />
<rect x="0" y="0" width="1" height="476" fill="#5e5e5e" />
<rect x="518.7" y="0" width="1.3" height="476" fill="#5a5a5a" />
<rect x="0" y="474.7" width="520" height="1.3" fill="#5a5a5a" />
</svg>
</body></html>
